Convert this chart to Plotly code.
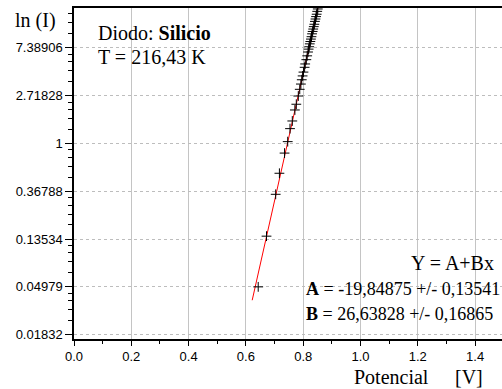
import math
import plotly.graph_objects as go

# ---- data ----
voltage = [0.643, 0.672, 0.704, 0.717, 0.735, 0.746, 0.754, 0.762, 0.771, 0.776,
           0.783, 0.788, 0.792, 0.795, 0.798, 0.801, 0.805, 0.807, 0.811, 0.814,
           0.817, 0.819, 0.821, 0.823, 0.825, 0.827, 0.829, 0.831, 0.833, 0.835,
           0.837, 0.839, 0.841, 0.843, 0.845, 0.847, 0.849, 0.851]
ln_current = [-3.00, -1.94, -1.065, -0.625, -0.203, 0.036, 0.308, 0.468, 0.698, 0.818,
              0.99, 1.13, 1.24, 1.33, 1.41, 1.49, 1.59, 1.66, 1.75, 1.83,
              1.91, 1.97, 2.02, 2.08, 2.13, 2.18, 2.23, 2.29, 2.34, 2.39,
              2.44, 2.49, 2.55, 2.60, 2.65, 2.70, 2.76, 2.81]

fit_A = -19.84875
fit_B = 26.63828
fit_x = [0.622, 0.86]
fit_y = [fit_A + fit_B * v for v in fit_x]

y_tickvals = [-4, -3, -2, -1, 0, 1, 2]
y_ticktext = ["0.01832", "0.04979", "0.13534", "0.36788", "1", "2.71828", "7.38906"]
x_tickvals = [0.0, 0.2, 0.4, 0.6, 0.8, 1.0, 1.2, 1.4]
x_ticktext = ["0.0", "0.2", "0.4", "0.6", "0.8", "1.0", "1.2", "1.4"]
x_minor = [0.1, 0.3, 0.5, 0.7, 0.9, 1.1, 1.3]

# minor ticks on the ln scale: linear subdivisions between e^n and e^(n+1)
y_minor = []
for n in range(-5, 3):
    lo, hi = math.exp(n), math.exp(n + 1)
    for k in range(1, 5):
        v = math.log(lo + k * (hi - lo) / 5)
        if -4.09 < v < 2.83:
            y_minor.append(v)

W, H = 502, 389
L, R, T, B = 74, 0, 8, 50
pw, ph = W - L - R, H - T - B


def px(x):
    return (x - L) / pw


def py(y):
    return (H - B - y) / ph


fig = go.Figure()
fig.add_trace(go.Scatter(x=fit_x, y=fit_y, mode="lines",
                         line=dict(color="#ff0000", width=1), showlegend=False))
fig.add_trace(go.Scatter(x=voltage, y=ln_current, mode="markers",
                         marker=dict(symbol="cross-thin", size=7,
                                     line=dict(color="black", width=1)),
                         showlegend=False))

tickfont = dict(family="Liberation Sans, Arial", size=13, color="black")
fig.update_layout(
    width=W, height=H,
    margin=dict(l=L, r=R, t=T, b=B),
    paper_bgcolor="white", plot_bgcolor="white",
    xaxis=dict(range=[0, 1.494], tickmode="array", tickvals=x_tickvals, ticktext=x_ticktext,
               showline=True, linecolor="black", linewidth=1.5, mirror=True,
               ticks="outside", ticklen=5, tickcolor="black", tickwidth=1,
               showgrid=True, gridcolor="#c4c4c4", gridwidth=1, zeroline=False,
               tickfont=tickfont,
               minor=dict(tickmode="array", tickvals=x_minor, ticks="outside",
                          ticklen=3, tickcolor="black", showgrid=False)),
    yaxis=dict(range=[-4.09, 2.83], tickmode="array", tickvals=y_tickvals, ticktext=y_ticktext,
               showline=True, linecolor="black", linewidth=1.5, mirror=False,
               ticks="outside", ticklen=7, tickcolor="black", tickwidth=1,
               showgrid=True, gridcolor="#bdbdbd", gridwidth=1, griddash="dot",
               zeroline=False, tickfont=tickfont,
               minor=dict(tickmode="array", tickvals=y_minor, ticks="outside",
                          ticklen=4, tickcolor="black", showgrid=False)),
)

serif = "Liberation Serif, Times New Roman"


def ann(text, x, y, size=20, xanchor="left"):
    fig.add_annotation(text=text, xref="paper", yref="paper", x=px(x), y=py(y),
                       xanchor=xanchor, yanchor="middle", showarrow=False,
                       font=dict(family=serif, size=size, color="black"))


ann("ln (I)", 13, 20)
ann("Diodo: <b>Silicio</b>", 96, 33)
ann("T = 216,43 K", 96, 57)
ann("Y = A+Bx", 496, 262.5, xanchor="right")
ann("<b>A</b> = -19,84875 +/- 0,13541", 304, 289, size=18)
ann("<b>B</b> = 26,63828 +/- 0,16865", 304, 313.5, size=18)
ann("Potencial", 352, 376.5)
ann("[V]", 453, 376.5)

fig.write_html("out.html")
